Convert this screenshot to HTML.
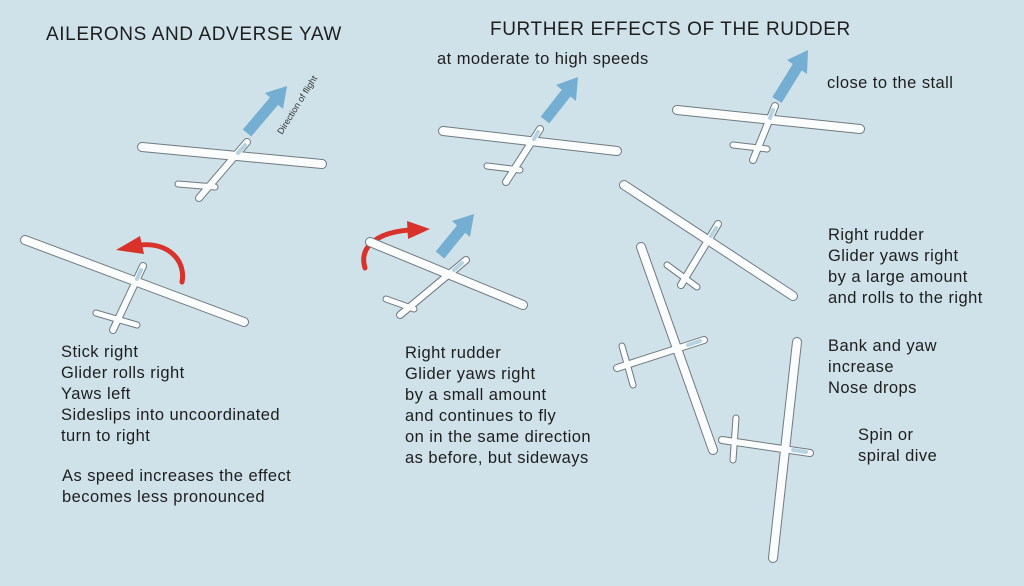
<!DOCTYPE html>
<html><head><meta charset="utf-8"><style>
html,body{margin:0;padding:0}
body{width:1024px;height:586px;background:#cfe2e9;overflow:hidden;position:relative;font-family:"Liberation Sans",sans-serif;color:#1e1e1e}
svg{position:absolute;left:0;top:0}
.t{position:absolute;font-size:16.5px;line-height:21px;white-space:nowrap;letter-spacing:0.45px}
.h{position:absolute;font-size:19px;white-space:nowrap;letter-spacing:0.6px}
</style></head><body>
<svg width="1024" height="586" viewBox="0 0 1024 586">
<g stroke-linecap="round" fill="none">
<g stroke="#74aed2" stroke-width="11" stroke-linecap="butt">
<line x1="247" y1="133" x2="275" y2="100"/>
<line x1="440" y1="255" x2="462" y2="228"/>
<line x1="545" y1="120" x2="567" y2="92"/>
<line x1="777" y1="100" x2="798" y2="66"/>
</g>
<g fill="#74aed2" stroke="none">
<polygon points="287,86 283,109 265,93"/>
<polygon points="474,214 470,237 452,221"/>
<polygon points="578,77 576,101 556,85"/>
<polygon points="808,50 807,74 787,60"/>
</g>
<path d="M182,282 C186,262 170,242 140,245" stroke="#d8322a" stroke-width="5"/>
<polygon points="116,250 140,236 144,254" fill="#d8322a"/>
<path d="M365,268 C358,245 380,232 410,230" stroke="#d8322a" stroke-width="5"/>
<polygon points="430,229 407,221 408,239" fill="#d8322a"/>
</g>
<g stroke-linecap="round" fill="none">
<g stroke="#6f7a80">
<g stroke-width="10">
<line x1="142" y1="147" x2="322" y2="164"/>
<line x1="25" y1="240" x2="244" y2="322"/>
<line x1="370" y1="242" x2="523" y2="305"/>
<line x1="443" y1="131" x2="617" y2="151"/>
<line x1="677" y1="110" x2="860" y2="129"/>
<line x1="624" y1="185" x2="793" y2="296"/>
<line x1="641" y1="247" x2="713" y2="450"/>
<line x1="797" y1="342" x2="773" y2="558"/>
</g>
<g stroke-width="8">
<line x1="247" y1="142" x2="199" y2="198"/>
<line x1="143" y1="266" x2="113" y2="330"/>
<line x1="466" y1="260" x2="400" y2="315"/>
<line x1="540" y1="129" x2="506" y2="182"/>
<line x1="775" y1="106" x2="753" y2="160"/>
<line x1="718" y1="224" x2="681" y2="285"/>
<line x1="704" y1="340" x2="617" y2="368"/>
<line x1="810" y1="453" x2="722" y2="440"/>
</g>
<g stroke-width="7">
<line x1="178" y1="184" x2="215" y2="187"/>
<line x1="96" y1="313" x2="137" y2="325"/>
<line x1="386" y1="299" x2="414" y2="309"/>
<line x1="487" y1="166" x2="520" y2="170"/>
<line x1="733" y1="145" x2="767" y2="149"/>
<line x1="667" y1="265" x2="697" y2="287"/>
<line x1="622" y1="346" x2="633" y2="385"/>
<line x1="736" y1="418" x2="733" y2="460"/>
</g>
</g>
<g stroke="#fbfcfc">
<g stroke-width="8">
<line x1="142" y1="147" x2="322" y2="164"/>
<line x1="25" y1="240" x2="244" y2="322"/>
<line x1="370" y1="242" x2="523" y2="305"/>
<line x1="443" y1="131" x2="617" y2="151"/>
<line x1="677" y1="110" x2="860" y2="129"/>
<line x1="624" y1="185" x2="793" y2="296"/>
<line x1="641" y1="247" x2="713" y2="450"/>
<line x1="797" y1="342" x2="773" y2="558"/>
</g>
<g stroke-width="6">
<line x1="247" y1="142" x2="199" y2="198"/>
<line x1="143" y1="266" x2="113" y2="330"/>
<line x1="466" y1="260" x2="400" y2="315"/>
<line x1="540" y1="129" x2="506" y2="182"/>
<line x1="775" y1="106" x2="753" y2="160"/>
<line x1="718" y1="224" x2="681" y2="285"/>
<line x1="704" y1="340" x2="617" y2="368"/>
<line x1="810" y1="453" x2="722" y2="440"/>
</g>
<g stroke-width="5">
<line x1="178" y1="184" x2="215" y2="187"/>
<line x1="96" y1="313" x2="137" y2="325"/>
<line x1="386" y1="299" x2="414" y2="309"/>
<line x1="487" y1="166" x2="520" y2="170"/>
<line x1="733" y1="145" x2="767" y2="149"/>
<line x1="667" y1="265" x2="697" y2="287"/>
<line x1="622" y1="346" x2="633" y2="385"/>
<line x1="736" y1="418" x2="733" y2="460"/>
</g>
</g>
<g stroke="#b5d3e2" stroke-width="4">
<line x1="245" y1="145" x2="238" y2="153"/>
<line x1="141" y1="270" x2="137" y2="279"/>
<line x1="462" y1="263" x2="454" y2="270"/>
<line x1="538" y1="132" x2="534" y2="139"/>
<line x1="773" y1="110" x2="770" y2="118"/>
<line x1="716" y1="228" x2="711" y2="236"/>
<line x1="700" y1="341" x2="688" y2="345"/>
<line x1="806" y1="452" x2="793" y2="450"/>
</g>
</g>
<text x="0" y="0" transform="translate(282,135) rotate(-58)" font-family="Liberation Sans" font-size="9" fill="#333">Direction of flight</text>
</svg>
<div class="h" style="left:46px;top:24px">AILERONS AND ADVERSE YAW</div>
<div class="h" style="left:490px;top:19px">FURTHER EFFECTS OF THE RUDDER</div>
<div class="t" style="left:437px;top:49px">at moderate to high speeds</div>
<div class="t" style="left:827px;top:73px">close to the stall</div>
<div class="t" style="left:61px;top:342px">Stick right<br>Glider rolls right<br>Yaws left<br>Sideslips into uncoordinated<br>turn to right</div>
<div class="t" style="left:62px;top:466px">As speed increases the effect<br>becomes less pronounced</div>
<div class="t" style="left:405px;top:343px">Right rudder<br>Glider yaws right<br>by a small amount<br>and continues to fly<br>on in the same direction<br>as before, but sideways</div>
<div class="t" style="left:828px;top:225px">Right rudder<br>Glider yaws right<br>by a large amount<br>and rolls to the right</div>
<div class="t" style="left:828px;top:336px">Bank and yaw<br>increase<br>Nose drops</div>
<div class="t" style="left:858px;top:425px">Spin or<br>spiral dive</div>
</body></html>
